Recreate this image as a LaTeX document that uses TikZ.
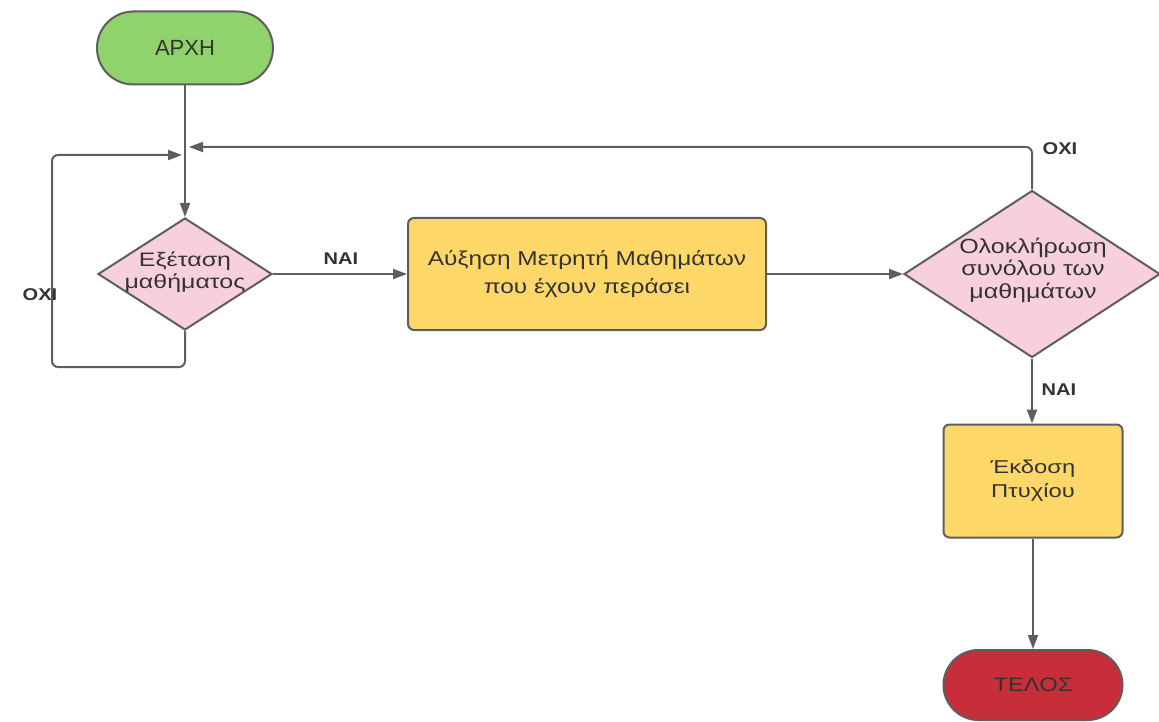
\documentclass[tikz,border=0pt]{standalone}
\usepackage{fontspec}
\setmainfont{Liberation Sans}
\newfontfamily\widetext[FakeStretch=1.28]{Liberation Sans}
\newfontfamily\midtext[FakeStretch=1.22]{Liberation Sans}
\newfontfamily\labeltext[FakeStretch=1.18]{Liberation Sans}
\usetikzlibrary{arrows.meta,shapes.geometric,shapes.misc}
\definecolor{linegray}{HTML}{5E5E5E}
\definecolor{textgray}{HTML}{333333}
\definecolor{startgreen}{HTML}{90D26C}
\definecolor{endred}{HTML}{C72E3A}
\definecolor{procyellow}{HTML}{FDD869}
\definecolor{decpink}{HTML}{F8D0DC}
\tikzset{
  conn/.style={draw=linegray, line width=2pt, -{Triangle[length=14pt,width=10pt]}},
  terminal/.style={rounded rectangle, draw=linegray, line width=2pt, text=textgray,
    inner sep=0pt},
  procbox/.style={rectangle, rounded corners=6pt, draw=linegray, line width=2pt,
    fill=procyellow, text=textgray, align=center, inner sep=0pt},
  decision/.style={diamond, draw=linegray, line width=2pt, fill=decpink, inner sep=0pt},
  dectext/.style={text=textgray, align=center, inner sep=0pt},
  answer/.style={font=\labeltext\bfseries\fontsize{17}{20}\selectfont, text=textgray}
}
\begin{document}
\begin{tikzpicture}[x=1pt,y=-1pt]
\useasboundingbox (0,0) rectangle (1159,722);
\fill[white] (0,0) rectangle (1159,722);

% terminals, process boxes and decisions
\node[terminal, fill=startgreen, minimum width=176pt, minimum height=73pt,
      font=\fontsize{22}{26}\selectfont] (start) at (185,48) {ΑΡΧΗ};
\node[decision, minimum width=174pt, minimum height=112pt] (exam) at (185,274) {};
\node[dectext, font=\widetext\fontsize{19.5}{21.5}\selectfont] (examtext) at (185,272)
      {Εξέταση\\μαθήματος};
\node[procbox, minimum width=358pt, minimum height=112pt,
      font=\midtext\fontsize{20}{28}\selectfont] (count) at (587,274)
      {Αύξηση Μετρητή Μαθημάτων\\που έχουν περάσει};
\node[decision, minimum width=256pt, minimum height=167pt] (done) at (1032,274) {};
\node[dectext, font=\midtext\fontsize{20.5}{22.5}\selectfont] (donetext) at (1033,270)
      {Ολοκλήρωση\\συνόλου των\\μαθημάτων};
\node[procbox, minimum width=179pt, minimum height=113pt,
      font=\widetext\fontsize{18.6}{24}\selectfont] (degree) at (1033,481)
      {Έκδοση\\Πτυχίου};
\node[terminal, fill=endred, minimum width=179pt, minimum height=70pt,
      font=\midtext\fontsize{19.5}{23}\selectfont] (stop) at (1033,685) {ΤΕΛΟΣ};

% junction points on the entry line
\coordinate (inleft) at (182,155);
\coordinate (intop) at (189,147);
\coordinate (loopbl) at (52,367);
\coordinate (looptl) at (52,155);

% connectors
\draw[conn] (start.south) -- (exam.north);
\draw[conn] (exam.east) -- (count.west);
\draw[conn] (count.east) -- (done.west);
\draw[conn] (done.south) -- (done.south |- degree.north);
\draw[conn] (degree.south) -- (stop.north);
\draw[conn, rounded corners=6pt] (exam.south) |- (loopbl) -- (looptl) -- (inleft);
\draw[conn, rounded corners=6pt] (done.north) |- (intop);

% answer labels
\node[answer] (noleft) at (40,295) {ΟΧΙ};
\node[answer] (notop) at (1060,149) {ΟΧΙ};
\node[answer] (yesmid) at (341,259) {ΝΑΙ};
\node[answer] (yesdown) at (1059,390) {ΝΑΙ};
\end{tikzpicture}
\end{document}
